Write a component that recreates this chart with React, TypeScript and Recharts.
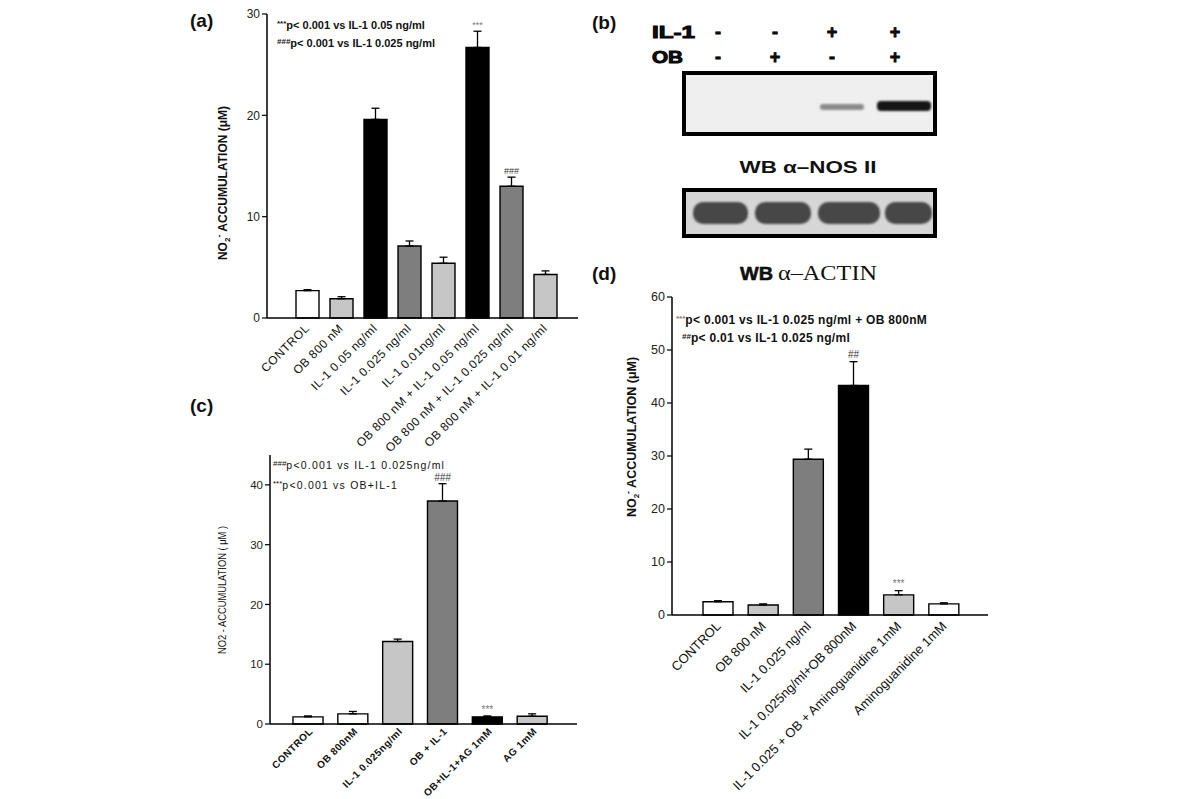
import React from "react";
import { BarChart, Bar, XAxis, YAxis, Cell, ErrorBar, LabelList } from "recharts";

const FONT = "Arial, 'Liberation Sans', Helvetica, sans-serif";
const INK = "#111";
const WHITE = "#ffffff";
const LIGHT = "#c6c6c6";
const DARK = "#7e7e7e";
const BLACK = "#000000";

// panel (a)
const catsA = [
  "CONTROL",
  "OB 800 nM",
  "IL-1 0.05 ng/ml",
  "IL-1 0.025 ng/ml",
  "IL-1 0.01ng/ml",
  "OB 800 nM + IL-1 0.05 ng/ml",
  "OB 800 nM + IL-1 0.025 ng/ml",
  "OB 800 nM + IL-1 0.01 ng/ml",
];
const valsA = [2.7, 1.9, 19.6, 7.1, 5.4, 26.7, 13.0, 4.3];
const errA = [0.1, 0.2, 1.1, 0.5, 0.6, 1.6, 0.9, 0.35];
const marksA = ["", "", "", "", "", "***", "###", ""];
const ticksA = [0, 10, 20, 30];
const fillA = [WHITE, LIGHT, BLACK, DARK, LIGHT, BLACK, DARK, LIGHT];

// panel (c)
const catsC = ["CONTROL", "OB 800nM", "IL-1 0.025ng/ml", "OB + IL-1", "OB+IL-1+AG 1mM", "AG 1mM"];
const valsC = [1.2, 1.7, 13.8, 37.3, 1.2, 1.3];
const errC = [0.15, 0.4, 0.4, 2.9, 0.15, 0.4];
const marksC = ["", "", "", "###", "***", ""];
const ticksC = [0, 10, 20, 30, 40];
const fillC = [WHITE, WHITE, LIGHT, DARK, BLACK, LIGHT];

// panel (d)
const catsD = [
  "CONTROL",
  "OB 800 nM",
  "IL-1 0.025 ng/ml",
  "IL-1 0.025ng/ml+OB 800nM",
  "IL-1 0.025 + OB  + Aminoguanidine 1mM",
  "Aminoguanidine 1mM",
];
const valsD = [2.5, 1.9, 29.4, 43.3, 3.8, 2.1];
const errD = [0.2, 0.2, 1.9, 4.5, 0.8, 0.2];
const marksD = ["", "", "", "##", "***", ""];
const ticksD = [0, 10, 20, 30, 40, 50, 60];
const fillD = [WHITE, LIGHT, DARK, BLACK, LIGHT, WHITE];

function rowsOf(cats: string[], vals: number[], errs: number[], marks: string[]) {
  return cats.map((name, i) => ({ name, v: vals[i], e: errs[i], err: [0, errs[i]], mark: marks[i] }));
}

function SlantTick(props: any) {
  const { x, y, payload, size, weight, spacing, dx = 0, dy = 0 } = props;
  const tx = x + dx;
  const ty = y + dy;
  return (
    <text
      x={tx}
      y={ty}
      transform={`rotate(-45 ${tx} ${ty})`}
      textAnchor="end"
      fontSize={size}
      fontWeight={weight}
      letterSpacing={spacing}
      fill={INK}
      fontFamily={FONT}
    >
      {payload.value}
    </text>
  );
}

function Panel(props: any) {
  const { box, margin, rows, fills, domain, ticks, pad, barSize, xHeight, tick, yFont, mark } = props;
  return (
    <div style={{ position: "absolute", left: box[0], top: box[1] }}>
      <BarChart width={box[2]} height={box[3]} data={rows} margin={margin}>
        <XAxis
          dataKey="name"
          interval={0}
          height={xHeight}
          padding={pad}
          axisLine={{ stroke: "#000", strokeWidth: 1.5 }}
          tickLine={false}
          tick={(p: any) => <SlantTick {...p} {...tick} />}
        />
        <YAxis
          type="number"
          domain={domain}
          ticks={ticks}
          width={30}
          tickSize={5}
          axisLine={{ stroke: "#000", strokeWidth: 1.5 }}
          tickLine={{ stroke: "#000", strokeWidth: 1.2 }}
          tick={{ fontSize: yFont, fill: "#222", fontFamily: FONT }}
        />
        <Bar dataKey="v" barSize={barSize} stroke="#000" strokeWidth={1.4} isAnimationActive={false}>
          {rows.map((_: any, i: number) => (
            <Cell key={i} fill={fills[i]} />
          ))}
          <ErrorBar dataKey="err" direction="y" width={4} stroke="#000" strokeWidth={1.3} />
          <LabelList
            dataKey="mark"
            content={(p: any) => {
              const r = rows[p.index];
              if (!r || !r.mark) return null;
              const unit = p.height / r.v;
              const ty = p.y - r.e * unit - mark.gap;
              return (
                <text
                  x={p.x + p.width / 2}
                  y={ty}
                  textAnchor="middle"
                  fontSize={mark.size}
                  fontStyle={r.mark.startsWith("#") ? mark.hashStyle : "normal"}
                  fill={r.mark.startsWith("*") ? "#777" : "#333"}
                  fontFamily={FONT}
                >
                  {r.mark}
                </text>
              );
            }}
          />
        </Bar>
      </BarChart>
    </div>
  );
}

function Overlay() {
  const bold = { fontFamily: FONT, fontWeight: "bold" as const, fill: INK };
  return (
    <svg
      width={1200}
      height={799}
      style={{ position: "absolute", left: 0, top: 0, pointerEvents: "none" }}
    >
      <defs>
        <filter id="soft" x="-20%" y="-50%" width="140%" height="200%">
          <feGaussianBlur stdDeviation="1.1" />
        </filter>
      </defs>
      {/* panel letters */}
      <text x={190} y={27} fontSize={19} {...bold}>(a)</text>
      <text x={592} y={29} fontSize={19} {...bold}>(b)</text>
      <text x={190} y={412} fontSize={19} {...bold}>(c)</text>
      <text x={592} y={280} fontSize={19} {...bold}>(d)</text>

      {/* (a) notes */}
      <text x={277} y={29} fontSize={11} {...bold}>
        <tspan fontSize={8} dy={-3}>***</tspan>
        <tspan dy={3}>p{"< 0.001 vs IL-1 0.05 ng/ml"}</tspan>
      </text>
      <text x={277} y={47} fontSize={11} {...bold}>
        <tspan fontSize={8} dy={-3}>###</tspan>
        <tspan dy={3}>p{"< 0.001 vs IL-1 0.025 ng/ml"}</tspan>
      </text>
      <text transform="translate(227,183) rotate(-90)" textAnchor="middle" fontSize={12} {...bold}>
        NO<tspan fontSize={8} dy={3}>2</tspan>
        <tspan fontSize={9} dy={-8}>-</tspan>
        <tspan dy={5}> ACCUMULATION (μM)</tspan>
      </text>

      {/* (c) notes */}
      <text x={273} y={469} fontSize={10.5} letterSpacing={1.2} fontFamily={FONT} fill={INK}>
        <tspan fontSize={8} letterSpacing={0} dy={-3}>###</tspan>
        <tspan dy={3}>p{"<0.001 vs IL-1 0.025ng/ml"}</tspan>
      </text>
      <text x={273} y={489} fontSize={10.5} letterSpacing={1.2} fontFamily={FONT} fill={INK}>
        <tspan fontSize={8} letterSpacing={0} dy={-3}>***</tspan>
        <tspan dy={3}>p{"<0.001 vs OB+IL-1"}</tspan>
      </text>
      <text
        transform="translate(226,590) rotate(-90)"
        textAnchor="middle"
        fontSize={10.5}
        textLength={128}
        lengthAdjust="spacingAndGlyphs"
        fontFamily={FONT}
        fill={INK}
      >
        NO2 - ACCUMULATION ( μM )
      </text>

      {/* (d) notes */}
      <text x={676} y={324} fontSize={12} letterSpacing={0.3} {...bold}>
        <tspan fontSize={8} letterSpacing={0} dy={-3} fill="#777">***</tspan>
        <tspan dy={3}>p{"< 0.001 vs  IL-1 0.025 ng/ml + OB 800nM"}</tspan>
      </text>
      <text x={682} y={342} fontSize={12} letterSpacing={0.3} {...bold}>
        <tspan fontSize={8} letterSpacing={0} dy={-3}>##</tspan>
        <tspan dy={3}>p{"< 0.01 vs IL-1 0.025 ng/ml"}</tspan>
      </text>
      <text transform="translate(636,437) rotate(-90)" textAnchor="middle" fontSize={12.5} {...bold}>
        NO<tspan fontSize={8} dy={3}>2</tspan>
        <tspan fontSize={9} dy={-8}>-</tspan>
        <tspan dy={5}> ACCUMULATION (μM)</tspan>
      </text>

      {/* (b) western blot */}
      <text x={652} y={38} fontSize={16} textLength={43} lengthAdjust="spacingAndGlyphs" stroke="#000" strokeWidth={0.9} {...bold}>IL-1</text>
      <text x={652} y={63} fontSize={16} textLength={31} lengthAdjust="spacingAndGlyphs" stroke="#000" strokeWidth={0.9} {...bold}>OB</text>
      {[
        ["-", "-"],
        ["-", "+"],
        ["+", "-"],
        ["+", "+"],
      ].map((s, i) => {
        const cx = [718, 775, 832, 895][i];
        return (
          <g key={i}>
            <text x={cx} y={38} textAnchor="middle" fontSize={18} stroke="#000" strokeWidth={0.8} {...bold}>{s[0]}</text>
            <text x={cx} y={63} textAnchor="middle" fontSize={18} stroke="#000" strokeWidth={0.8} {...bold}>{s[1]}</text>
          </g>
        );
      })}
      <rect x={684} y={73} width={251} height={61} fill="#efefef" stroke="#000" strokeWidth={4} />
      <rect x={820} y={104} width={44} height={6} rx={3} fill="#8a8a8a" filter="url(#soft)" />
      <rect x={877} y={101} width={54} height={10} rx={4} fill="#151515" filter="url(#soft)" />
      <text x={808} y={173} textAnchor="middle" fontSize={17} textLength={137} lengthAdjust="spacingAndGlyphs" {...bold}>
        WB α–NOS II
      </text>
      <rect x={684} y={190} width={251} height={46} fill="#d6d6d6" stroke="#000" strokeWidth={4} />
      {[
        [693, 55],
        [755, 56],
        [818, 62],
        [885, 47],
      ].map((b, i) => (
        <rect key={i} x={b[0]} y={202} width={b[1]} height={22} rx={10} fill="#474747" filter="url(#soft)" />
      ))}
      <text x={740} y={280} fontSize={19} textLength={33} lengthAdjust="spacingAndGlyphs" stroke="#000" strokeWidth={0.5} {...bold}>WB</text>
      <text
        x={778}
        y={280}
        fontSize={20}
        textLength={99}
        lengthAdjust="spacingAndGlyphs"
        fontFamily="'Liberation Serif', 'DejaVu Serif', serif"
        fill={INK}
      >
        α–ACTIN
      </text>
    </svg>
  );
}

export default function App() {
  const rowsA = rowsOf(catsA, valsA, errA, marksA);
  const rowsC = rowsOf(catsC, valsC, errC, marksC);
  const rowsD = rowsOf(catsD, valsD, errD, marksD);
  return (
    <div
      style={{
        position: "absolute",
        left: 0,
        top: 0,
        width: 1200,
        height: 799,
        background: "#fff",
        overflow: "hidden",
        fontFamily: FONT,
      }}
    >
      <Panel
        box={[170, 440, 420, 359]}
        margin={{ top: 15, right: 13, bottom: 5, left: 70 }}
        rows={rowsC}
        fills={fillC}
        domain={[0, 45]}
        ticks={ticksC}
        pad={{ left: 16, right: 22 }}
        barSize={30}
        xHeight={70}
        yFont={11.5}
        tick={{ size: 10, weight: "bold", spacing: 0.5, dx: 5, dy: 0 }}
        mark={{ gap: 3, size: 10, hashStyle: "italic" }}
      />
      <Panel
        box={[170, 0, 430, 480]}
        margin={{ top: 14, right: 22, bottom: 42, left: 67 }}
        rows={rowsA}
        fills={fillA}
        domain={[0, 30]}
        ticks={ticksA}
        pad={{ left: 23, right: 16 }}
        barSize={23}
        xHeight={120}
        yFont={12}
        tick={{ size: 12, weight: "normal", spacing: 0.5, dx: 3, dy: 3 }}
        mark={{ gap: 3, size: 9, hashStyle: "normal" }}
      />
      <Panel
        box={[600, 280, 400, 519]}
        margin={{ top: 17, right: 12, bottom: 14, left: 42 }}
        rows={rowsD}
        fills={fillD}
        domain={[0, 60]}
        ticks={ticksD}
        pad={{ left: 23, right: 22 }}
        barSize={30}
        xHeight={170}
        yFont={12.5}
        tick={{ size: 13, weight: "normal", spacing: 0, dx: 4, dy: 4 }}
        mark={{ gap: 4, size: 10, hashStyle: "normal" }}
      />
      <Overlay />
    </div>
  );
}
